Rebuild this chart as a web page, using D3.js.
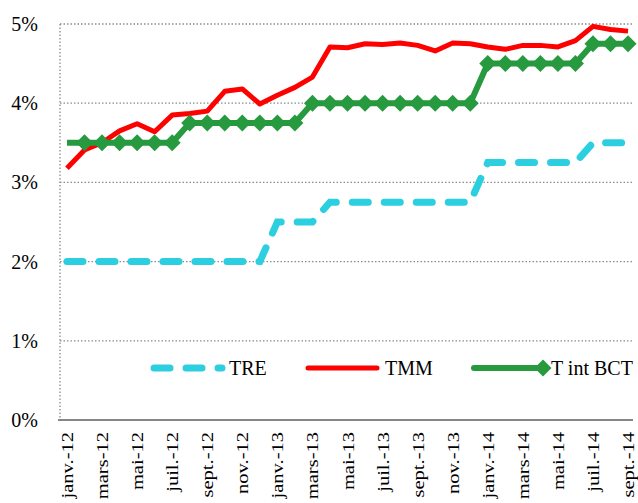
<!DOCTYPE html>
<html><head><meta charset="utf-8">
<script src="https://cdn.jsdelivr.net/npm/d3@7"></script>
<style>
body{margin:0;background:#fff;}
</style></head>
<body><svg id="c" width="638" height="503"></svg>
<script>
const months = ["janv.-12","févr.-12","mars-12","avr.-12","mai-12","juin-12","juil.-12","août-12","sept.-12","oct.-12","nov.-12","déc.-12",
"janv.-13","févr.-13","mars-13","avr.-13","mai-13","juin-13","juil.-13","août-13","sept.-13","oct.-13","nov.-13","déc.-13",
"janv.-14","févr.-14","mars-14","avr.-14","mai-14","juin-14","juil.-14","août-14","sept.-14"];
const tickLabels = ["janv.-12","mars-12","mai-12","juil.-12","sept.-12","nov.-12","janv.-13","mars-13","mai-13","juil.-13","sept.-13","nov.-13","janv.-14","mars-14","mai-14","juil.-14","sept.-14"];
const TRE = [2,2,2,2,2,2,2,2,2,2,2,2, 2.5,2.5,2.5, 2.75,2.75,2.75,2.75,2.75,2.75,2.75,2.75,2.75, 3.25,3.25,3.25,3.25,3.25,3.25, 3.5,3.5,3.5];
const TMM = [3.18,3.41,3.5,3.65,3.74,3.64,3.85,3.87,3.9,4.15,4.18,3.99,4.1,4.2,4.33,4.71,4.7,4.75,4.74,4.76,4.73,4.66,4.76,4.75,4.71,4.68,4.73,4.73,4.71,4.79,4.97,4.93,4.91];
const BCT = [3.5,3.5,3.5,3.5,3.5,3.5,3.5, 3.75,3.75,3.75,3.75,3.75,3.75,3.75, 4,4,4,4,4,4,4,4,4,4, 4.5,4.5,4.5,4.5,4.5,4.5, 4.75,4.75,4.75];
const yTicks = [0,1,2,3,4,5];
const seriesNames = ["TRE","TMM","T int BCT"];
const FONT = "Liberation Serif, Tinos, DejaVu Serif, Noto Serif, Times, serif";

const svg = d3.select("#c");
const x = d3.scalePoint().domain(months).range([58.2,636.8]).padding(0.5);
const y = d3.scaleLinear().domain([0,5]).range([420,24]);
const L = 60, R = 633;

svg.append("g").selectAll("line").data(yTicks.filter(d=>d>0)).join("line")
  .attr("x1",L).attr("x2",R).attr("y1",d=>y(d)).attr("y2",d=>y(d))
  .attr("stroke","#8c8c8c").attr("stroke-width",1.3).attr("stroke-dasharray","1.5,2");
svg.append("line").attr("x1",L).attr("x2",L).attr("y1",y(5)).attr("y2",y(0))
  .attr("stroke","#8c8c8c").attr("stroke-width",1.3).attr("stroke-dasharray","1.5,2");

svg.append("g").selectAll("text").data(yTicks).join("text")
  .attr("x",38).attr("y",d=>y(d)+7).attr("text-anchor","end")
  .style("font-family",FONT).style("font-size","20px").text(d=>d+"%");

svg.append("line").attr("x1",58).attr("x2",R).attr("y1",y(0)).attr("y2",y(0))
  .attr("stroke","#868686").attr("stroke-width",2);

svg.append("g").selectAll("text").data(tickLabels).join("text")
  .attr("transform",d=>`translate(${x(d)+6},432) rotate(-90) scale(1.08,0.88)`)
  .attr("text-anchor","end").style("font-family",FONT).style("font-size","19px").text(d=>d);

const line = d3.line().x((d,i)=>x(months[i])).y(d=>y(d));

svg.append("path").datum(TRE).attr("d",line).attr("fill","none")
  .attr("stroke","#2bcfdf").attr("stroke-width",7).attr("stroke-linecap","round")
  .attr("stroke-dasharray","16,16");
svg.append("path").datum(TMM).attr("d",line).attr("fill","none")
  .attr("stroke","#ff0000").attr("stroke-width",5).attr("stroke-linejoin","round");
svg.append("path").datum(BCT).attr("d",line).attr("fill","none")
  .attr("stroke","#27993f").attr("stroke-width",6);
const dia = (s)=>`M0,${-s}L${s},0L0,${s}L${-s},0Z`;
svg.append("g").selectAll("path").data(BCT.slice(1)).join("path")
  .attr("transform",(d,i)=>`translate(${x(months[i+1])},${y(d)})`)
  .attr("d",dia(8.5)).attr("fill","#27993f");

const ly = 368;
const lg = svg.append("g");
lg.append("line").attr("x1",154).attr("x2",222).attr("y1",ly).attr("y2",ly)
  .attr("stroke","#2bcfdf").attr("stroke-width",7).attr("stroke-linecap","round").attr("stroke-dasharray","16,16");
lg.append("text").attr("x",229).attr("y",ly+7).style("font-family",FONT).style("font-size","20px").text(seriesNames[0]);
lg.append("line").attr("x1",308).attr("x2",377).attr("y1",ly).attr("y2",ly)
  .attr("stroke","#ff0000").attr("stroke-width",5).attr("stroke-linecap","round");
lg.append("text").attr("x",385).attr("y",ly+7).style("font-family",FONT).style("font-size","20px").text(seriesNames[1]);
lg.append("line").attr("x1",474).attr("x2",543).attr("y1",ly).attr("y2",ly)
  .attr("stroke","#27993f").attr("stroke-width",6).attr("stroke-linecap","round");
lg.append("path").attr("transform",`translate(543,${ly})`).attr("d",dia(8.5)).attr("fill","#27993f");
lg.append("text").attr("x",551).attr("y",ly+7).style("font-family",FONT).style("font-size","20px").text(seriesNames[2]);
</script></body></html>
